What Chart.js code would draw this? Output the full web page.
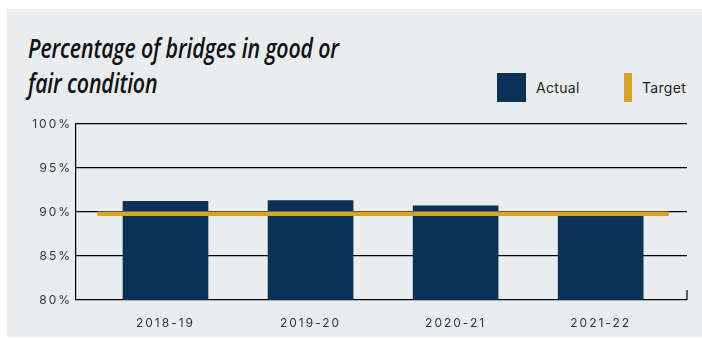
<!DOCTYPE html>
<html>
<head>
<meta charset="utf-8">
<script src="https://cdn.jsdelivr.net/npm/chart.js@4.4.1/dist/chart.umd.min.js"></script>
<style>
  html, body { margin: 0; padding: 0; background: #fff; }
  #wrap { position: relative; width: 702px; height: 339px; overflow: hidden; }
  #panel { position: absolute; left: 7px; top: 9px; width: 695px; height: 328px; background: #e9edf0; }
  #title {
    position: absolute; left: 28px; top: 30px; width: 500px;
    font-family: "Open Sans", sans-serif; font-style: italic; font-weight: 600;
    font-size: 27px; line-height: 35px; color: #111; letter-spacing: -0.2px;
    transform: scaleX(0.79); transform-origin: 0 0;
  }
  .lg-box { position: absolute; top: 73px; height: 29px; }
  .lg-text { position: absolute; top: 79px; font-family: Inter, sans-serif; font-size: 14px; color: #222; letter-spacing: 0.3px; }
  canvas { position: absolute; left: 0; top: 0; }
</style>
</head>
<body>
<div id="wrap">
  <div id="panel"></div>
  <div id="title">Percentage of bridges in good or<br>fair condition</div>
  <div id="legend"></div>
  <canvas id="myChart" width="702" height="339"></canvas>
</div>
<script>
const years = ['2018-19', '2019-20', '2020-21', '2021-22'];
const actual = [91.2, 91.3, 90.7, 89.7];
const target = [89.8, 89.8, 89.8, 89.8];
const yTicks = [80, 85, 90, 95, 100];

const colors = {
  navy: '#0c3157',
  gold: '#d6a32b',
  grid: '#000000',
  text: '#333333',
};

// html legend, same look as the original
const legendItems = [
  { label: 'Actual', color: colors.navy, left: 497, width: 29, textLeft: 536 },
  { label: 'Target', color: colors.gold, left: 624, width: 8, textLeft: 642 },
];
const legendEl = document.getElementById('legend');
legendItems.forEach((it) => {
  const b = document.createElement('div');
  b.className = 'lg-box';
  b.style.left = it.left + 'px';
  b.style.width = it.width + 'px';
  b.style.background = it.color;
  legendEl.appendChild(b);
  const t = document.createElement('div');
  t.className = 'lg-text';
  t.style.left = it.textLeft + 'px';
  t.textContent = it.label;
  legendEl.appendChild(t);
});

// target line runs a bit past the first and last bar
const ext = 0.47;
const targetPoints = [{ x: -ext, y: target[0] }]
  .concat(target.map((v, i) => ({ x: i, y: v })))
  .concat([{ x: target.length - 1 + ext, y: target[target.length - 1] }]);

const spacing = {
  id: 'spacing',
  beforeDraw(chart) {
    chart.ctx.letterSpacing = '2px';
  },
  afterDraw(chart) {
    // little end tick at the bottom right of the plot
    const { ctx, chartArea } = chart;
    ctx.save();
    ctx.strokeStyle = colors.grid;
    ctx.lineWidth = 1.2;
    ctx.beginPath();
    ctx.moveTo(chartArea.right, chartArea.bottom - 10);
    ctx.lineTo(chartArea.right, chartArea.bottom);
    ctx.stroke();
    ctx.restore();
  },
};

const ctx = document.getElementById('myChart').getContext('2d');
new Chart(ctx, {
  data: {
    datasets: [
      {
        type: 'line',
        label: 'Target',
        data: targetPoints,
        borderColor: colors.gold,
        borderWidth: 4.5,
        pointRadius: 0,
        fill: false,
        order: 1,
      },
      {
        type: 'bar',
        label: 'Actual',
        data: actual.map((v, i) => ({ x: i, y: v })),
        backgroundColor: colors.navy,
        barThickness: 85,
        order: 2,
      },
    ],
  },
  options: {
    responsive: false,
    animation: false,
    layout: { padding: { left: 0, top: 124, right: 15, bottom: 0 } },
    plugins: {
      legend: { display: false },
      tooltip: { enabled: false },
    },
    scales: {
      x: {
        type: 'linear',
        offset: false,
        min: -0.617,
        max: 3.595,
        grid: { display: false },
        border: { display: false },
        afterFit: (s) => { s.height = 39; },
        ticks: {
          stepSize: 1,
          includeBounds: false,
          padding: 8,
          color: colors.text,
          font: { family: 'Inter', size: 12 },
          callback: (v) => (Number.isInteger(v) ? years[v] : ''),
        },
      },
      y: {
        min: yTicks[0],
        max: yTicks[yTicks.length - 1],
        afterFit: (s) => { s.width = 76; },
        grid: { color: colors.grid, lineWidth: 1.2, drawTicks: false },
        border: { color: colors.grid, width: 1.2 },
        ticks: {
          stepSize: 5,
          padding: 4,
          color: colors.text,
          font: { family: 'Inter', size: 12 },
          callback: (v) => v + '%',
        },
      },
    },
  },
  plugins: [spacing],
});
</script>
</body>
</html>
